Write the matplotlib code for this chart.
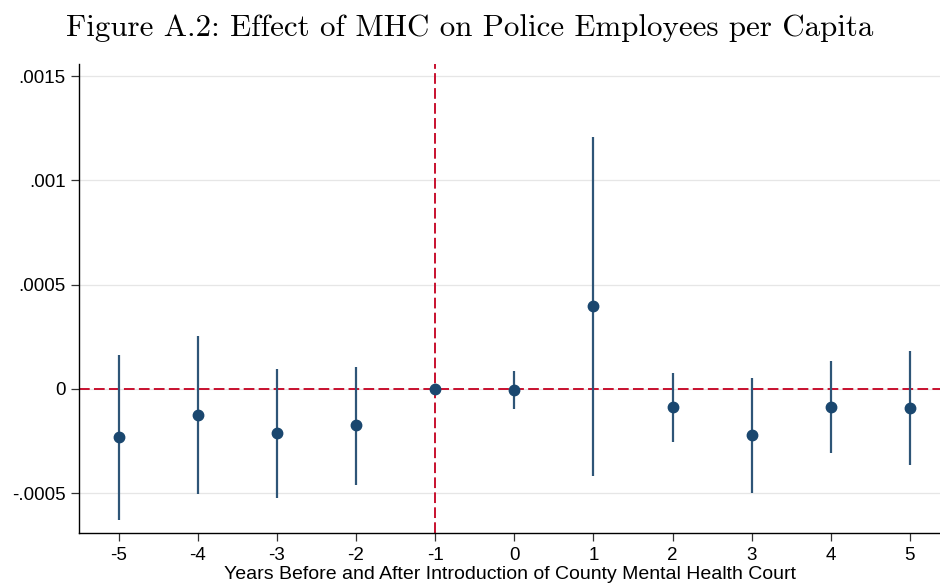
import matplotlib
matplotlib.use("Agg")
import matplotlib.pyplot as plt

years = [-5, -4, -3, -2, -1, 0, 1, 2, 3, 4, 5]
coef = [-0.000230, -0.000125, -0.000211, -0.000173, 0.0, -0.000005, 0.000398, -0.0000863, -0.000220, -0.0000863, -0.0000911]
ci_hi = [0.000163, 0.000254, 0.0000959, 0.000105, 0.0, 0.0000863, 0.001208, 0.0000767, 0.0000527, 0.000134, 0.000182]
ci_lo = [-0.000628, -0.000503, -0.000523, -0.000460, 0.0, -0.0000959, -0.000417, -0.000254, -0.000499, -0.000307, -0.000364]
ytick_vals = [-0.0005, 0, 0.0005, 0.001, 0.0015]
ytick_labels = ["-.0005", "0", ".0005", ".001", ".0015"]

fig = plt.figure(figsize=(9.4, 5.88), dpi=100)
ax = fig.add_axes([79/940, (588-532.7)/588, 1-79/940, (532.7-64)/588])

sans = ["Liberation Sans", "DejaVu Sans"]

ax.set_xlim(-5.5, 5.38)
ax.set_ylim(-0.000689, 0.001558)

for y in ytick_vals:
    ax.axhline(y, color="#e6e6e6", lw=0.9, zorder=0)

for x, lo, hi in zip(years, ci_lo, ci_hi):
    if hi != lo:
        ax.vlines(x, lo, hi, color="#2e5577", lw=1.6, zorder=2)

ax.axhline(0, color="#c8102e", lw=1.4, ls=(0, (5.5, 2.2)), zorder=1)
ax.axvline(-1, color="#c8102e", lw=1.4, ls=(0, (5.5, 2.2)), zorder=1)

ax.plot(years, coef, "o", color="#1a476f", ms=7.5, zorder=3)

ax.set_yticks(ytick_vals)
ax.set_yticklabels(ytick_labels, fontfamily=sans, fontsize=13.5)
ax.set_xticks(years)
ax.set_xticklabels([str(y) for y in years], fontfamily=sans, fontsize=13.5)
ax.tick_params(axis="both", direction="out", length=6, width=0.9, color="#333333")
ax.tick_params(axis="x", pad=4)
ax.spines["top"].set_visible(False)
ax.spines["right"].set_visible(False)
ax.spines["left"].set_linewidth(1.0)
ax.spines["bottom"].set_linewidth(1.0)

ax.set_xlabel("Years Before and After Introduction of County Mental Health Court",
              fontfamily=sans, fontsize=14, labelpad=2)

fig.text(0.5, 1 - 28/588, "Figure A.2: Effect of MHC on Police Employees per Capita",
         ha="center", va="center", fontfamily="cmr10", fontsize=22.3)

fig.savefig("out.png", dpi=100, facecolor="white")
